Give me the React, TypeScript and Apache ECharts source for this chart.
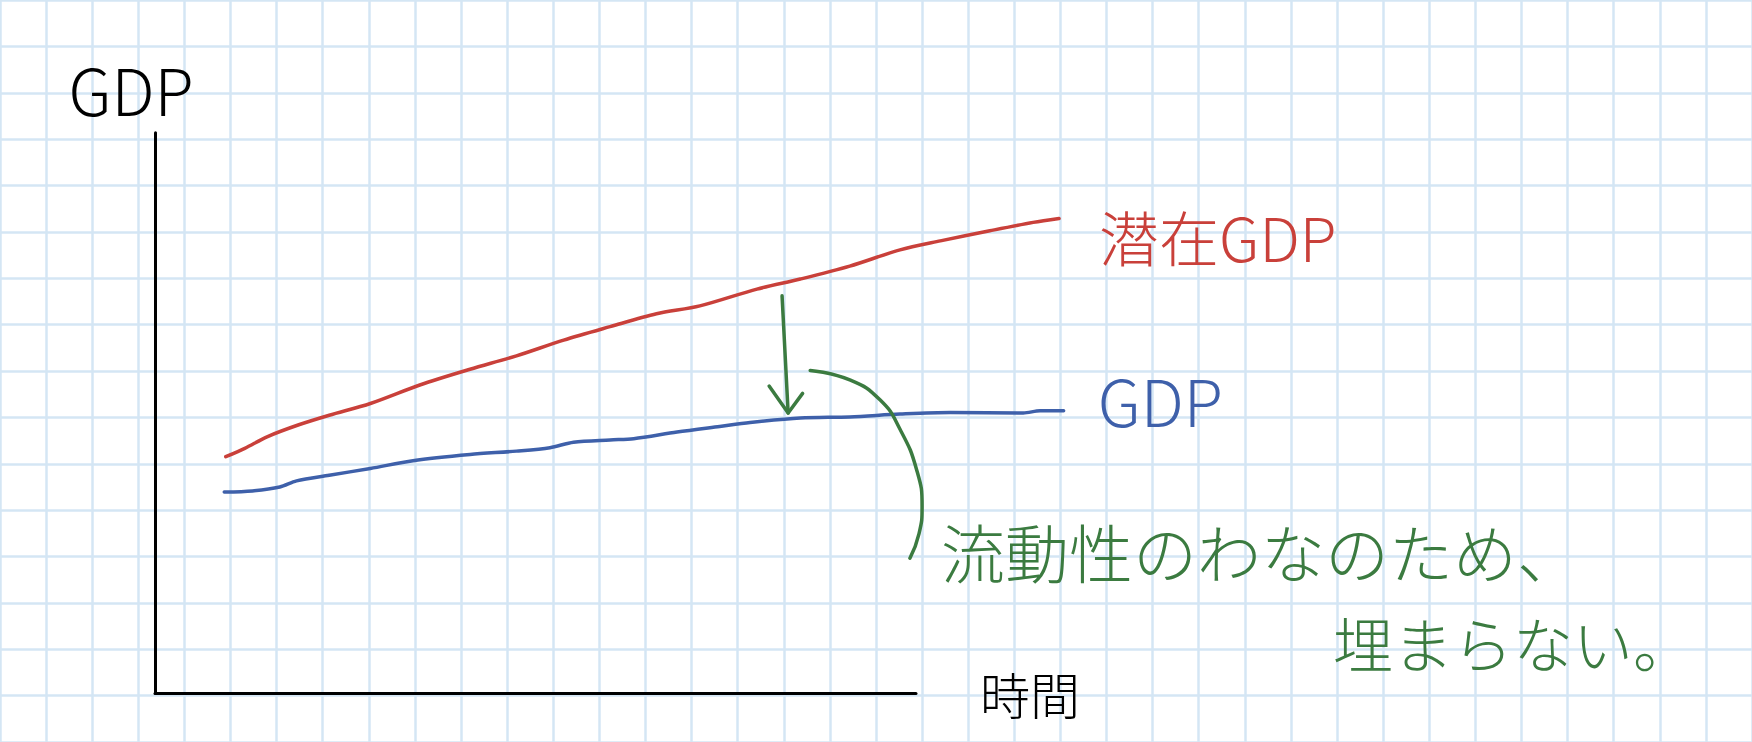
import React, { useEffect, useRef } from "react";
import * as echarts from "echarts";

// Time (x) and level (y) readings, axis units: 0..100 along the drawn axes
const POTENTIAL_T = [9.3, 11.8, 14.8, 18.9, 22.9, 28.3, 34.8, 41.4, 47.5, 53.7, 59.8, 65.9, 71.6, 79.1, 84.8, 91.3, 97.9, 103.2, 109.7, 115.4, 118.8];
const POTENTIAL_V = [42.2, 43.7, 45.8, 47.9, 49.6, 51.7, 55.0, 57.8, 60.2, 63.0, 65.4, 67.7, 69.1, 72.1, 73.9, 76.2, 79.1, 80.7, 82.5, 84.0, 84.7];

const GDP_T = [9.1, 12.8, 16.4, 18.6, 22.9, 28.3, 33.9, 41.4, 47.5, 51.9, 55.0, 59.8, 62.9, 68.6, 74.2, 78.2, 84.8, 91.3, 97.9, 104.5, 114.1, 116.3, 119.4];
const GDP_V = [35.9, 36.1, 36.8, 37.9, 38.9, 40.1, 41.5, 42.6, 43.2, 43.8, 44.8, 45.2, 45.4, 46.6, 47.6, 48.3, 49.1, 49.3, 49.8, 50.1, 50.0, 50.4, 50.4];

// Annotation: gap arrow and the curved pointer
const ARROW_SHAFT_T = [82.4, 83.2];
const ARROW_SHAFT_V = [70.9, 50.0];
const ARROW_HEAD_T = [80.7, 83.2, 85.1];
const ARROW_HEAD_V = [54.8, 50.0, 53.5];
const CURVE_T = [86.1, 91.3, 95.3, 97.9, 100.1, 100.8, 100.4, 99.2];
const CURVE_V = [57.6, 55.9, 52.3, 47.1, 39.8, 33.3, 28.5, 24.1];

// Labels
const Y_NAME = "GDP";
const X_NAME = "時間";
const POTENTIAL_NAME = "潜在GDP";
const GDP_NAME = "GDP";
const NOTE_LINE_1 = "流動性のわなのため、";
const NOTE_LINE_2 = "埋まらない。";

// Notebook paper grid (cells)
const NOTE_COLS = 38;
const NOTE_ROWS = 16;
const CELL = 47.25;

const AXIS_MAX_T = 100;
const DATA_MAX_T = 130;

const RED = "#c9403a";
const BLUE = "#3e60aa";
const GREEN = "#3b7b40";
const PAPER = "#d4e6f4";
const FONT = "'Noto Sans CJK JP', 'Noto Sans', sans-serif";

const pairs = (t: number[], v: number[]) => t.map((x, i) => [x, v[i]]);

export default function App() {
  const ref = useRef<HTMLDivElement>(null);

  useEffect(() => {
    if (!ref.current) return;
    const chart = echarts.init(ref.current, null, { renderer: "svg" });
    const hidden = {
      axisTick: { show: false },
      axisLabel: { show: false },
    };
    const axisW = 761;
    const lineSeries = (data: number[][], color: string, extra: any = {}) => ({
      type: "line",
      xAxisIndex: 2,
      yAxisIndex: 2,
      data,
      showSymbol: false,
      symbol: "none",
      clip: false,
      lineStyle: { color, width: 3.5, cap: "round", join: "round" },
      ...extra,
    });
    chart.setOption({
      animation: false,
      backgroundColor: "#ffffff",
      grid: [
        { left: 155, top: 132.7, width: axisW, height: 560.6 },
        { left: 45 - CELL, top: 42.7 - CELL, width: CELL * NOTE_COLS, height: CELL * NOTE_ROWS },
        { left: 155, top: 132.7, width: (axisW * DATA_MAX_T) / AXIS_MAX_T, height: 560.6 },
      ],
      xAxis: [
        {
          gridIndex: 0,
          type: "value",
          min: 0,
          max: AXIS_MAX_T,
          ...hidden,
          splitLine: { show: false },
          axisLine: { show: true, onZero: false, lineStyle: { color: "#000", width: 3 } },
          name: X_NAME,
          nameLocation: "end",
          nameGap: 64,
          nameTextStyle: { color: "#000", fontSize: 50, fontFamily: FONT, fontWeight: 300 },
          z: 3,
        },
        {
          gridIndex: 1,
          type: "value",
          min: 0,
          max: NOTE_COLS,
          interval: 1,
          ...hidden,
          axisLine: { show: false },
          splitLine: { show: true, lineStyle: { color: PAPER, width: 2.5 } },
          z: -1,
        },
        {
          gridIndex: 2,
          type: "value",
          min: 0,
          max: DATA_MAX_T,
          show: false,
        },
      ],
      yAxis: [
        {
          gridIndex: 0,
          type: "value",
          min: 0,
          max: 100,
          ...hidden,
          splitLine: { show: false },
          axisLine: { show: true, onZero: false, lineStyle: { color: "#000", width: 3 } },
          name: Y_NAME,
          nameLocation: "end",
          nameGap: 13,
          nameTextStyle: {
            color: "#000",
            fontSize: 64,
            fontFamily: FONT,
            fontWeight: 300,
            padding: [0, 48, 0, 0],
          },
          z: 3,
        },
        {
          gridIndex: 1,
          type: "value",
          min: 0,
          max: NOTE_ROWS,
          interval: 1,
          ...hidden,
          axisLine: { show: false },
          splitLine: { show: true, lineStyle: { color: PAPER, width: 2.5 } },
          z: -1,
        },
        {
          gridIndex: 2,
          type: "value",
          min: 0,
          max: 100,
          show: false,
        },
      ],
      series: [
        lineSeries(pairs(POTENTIAL_T, POTENTIAL_V), RED, {
          name: POTENTIAL_NAME,
          smooth: 0.3,
          endLabel: {
            show: true,
            formatter: POTENTIAL_NAME,
            color: RED,
            fontSize: 60,
            fontFamily: FONT,
            fontWeight: 300,
            distance: 40,
            offset: [0, 17],
          },
        }),
        lineSeries(pairs(GDP_T, GDP_V), BLUE, {
          name: GDP_NAME,
          smooth: 0.3,
          endLabel: {
            show: true,
            formatter: GDP_NAME,
            color: BLUE,
            fontSize: 64,
            fontFamily: FONT,
            fontWeight: 300,
            distance: 34,
            offset: [0, -12],
          },
        }),
        lineSeries(pairs(ARROW_SHAFT_T, ARROW_SHAFT_V), GREEN),
        lineSeries(pairs(ARROW_HEAD_T, ARROW_HEAD_V), GREEN),
        lineSeries(pairs(CURVE_T, CURVE_V), GREEN, { smooth: 0.5 }),
      ],
      graphic: [
        {
          type: "text",
          x: 941,
          y: 550,
          style: {
            text: NOTE_LINE_1,
            fill: GREEN,
            fontSize: 64,
            fontFamily: FONT,
            fontWeight: 300,
            align: "left",
            verticalAlign: "middle",
          },
        },
        {
          type: "text",
          x: 1333,
          y: 641,
          style: {
            text: NOTE_LINE_2,
            fill: GREEN,
            fontSize: 60,
            fontFamily: FONT,
            fontWeight: 300,
            align: "left",
            verticalAlign: "middle",
          },
        },
      ],
    });
    return () => chart.dispose();
  }, []);

  return (
    <div
      ref={ref}
      style={{ position: "fixed", left: 0, top: 0, width: 1752, height: 742 }}
    />
  );
}
